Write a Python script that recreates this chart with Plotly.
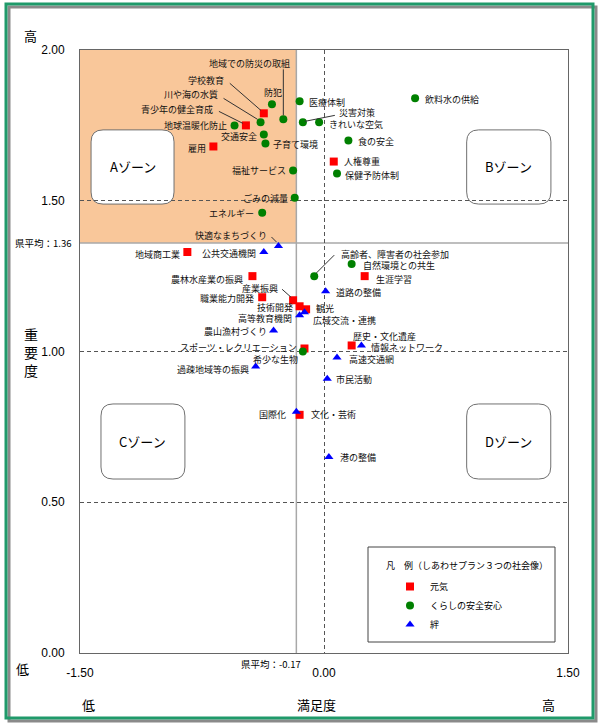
import plotly.graph_objects as go

# ---------------- data ----------------
genki_names = ["学校教育", "青少年の健全育成", "雇用", "人権尊重", "地域商工業", "農林水産業の振興",
               "職業能力開発", "産業振興", "技術開発", "観光", "生涯学習", "歴史・文化遺産",
               "スポーツ・レクリエーション", "文化・芸術"]
genki_x = [-0.37, -0.48, -0.68, 0.06, -0.84, -0.44, -0.38, -0.19, -0.15, -0.11, 0.25, 0.17, -0.12, -0.15]
genki_y = [1.79, 1.75, 1.68, 1.63, 1.33, 1.25, 1.18, 1.17, 1.15, 1.14, 1.25, 1.02, 1.01, 0.79]

anzen_names = ["防犯", "地域での防災の取組", "川や海の水質", "地球温暖化防止", "交通安全", "子育て環境",
               "福祉サービス", "ごみの減量", "エネルギー", "医療体制", "災害対策", "きれいな空気",
               "飲料水の供給", "食の安全", "保健予防体制", "高齢者、障害者の社会参加",
               "自然環境との共生", "希少な生物"]
anzen_x = [-0.32, -0.25, -0.39, -0.55, -0.37, -0.36, -0.19, -0.18, -0.38, -0.15, -0.13, -0.03,
           0.56, 0.15, 0.08, -0.06, 0.17, -0.13]
anzen_y = [1.82, 1.77, 1.76, 1.75, 1.72, 1.69, 1.60, 1.51, 1.46, 1.83, 1.76, 1.76,
           1.84, 1.70, 1.59, 1.25, 1.29, 1.00]

kizuna_names = ["快適なまちづくり", "公共交通機関", "高等教育機関", "広域交流・連携", "農山漁村づくり",
                "道路の整備", "情報ネットワーク", "高速交通網", "過疎地域等の振興", "市民活動",
                "国際化", "港の整備"]
kizuna_x = [-0.28, -0.37, -0.15, -0.12, -0.31, 0.01, 0.23, 0.08, -0.42, 0.02, -0.17, 0.03]
kizuna_y = [1.35, 1.33, 1.12, 1.13, 1.07, 1.20, 1.02, 0.98, 0.95, 0.91, 0.80, 0.65]

avg_x = -0.17
avg_y = 1.36
x_ticks = [-1.5, 0.0, 1.5]
x_tick_labels = ["-1.50", "0.00", "1.50"]
y_ticks = [0.0, 0.5, 1.0, 1.5, 2.0]
y_tick_labels = ["0.00", "0.50", "1.00", "1.50", "2.00"]
zone_names = ["Aゾーン", "Bゾーン", "Cゾーン", "Dゾーン"]
legend_title = "凡　例（しあわせプラン３つの社会像）"

# ---------------- label placement (layout) ----------------
# name: (anchor, xshift, yshift, leader line (x0,y0,x1,y1) in px relative to point or None)
label_pos = {
    "学校教育": ("right", -38, 33, (-3, 3, -34, 30)),
    "青少年の健全育成": ("right", -31, 16, (-3, 2, -27, 14)),
    "雇用": ("right", -5, -2, None),
    "人権尊重": ("left", 8, 0, None),
    "地域商工業": ("right", -5, -2, None),
    "農林水産業の振興": ("right", -7, -3, None),
    "職業能力開発": ("right", -6, -1, None),
    "産業振興": ("right", -13, 12, (-2, 3, -11, 11)),
    "技術開発": ("right", -5, -1, None),
    "観光": ("left", 8, 1, None),
    "生涯学習": ("left", 9, -3, None),
    "歴史・文化遺産": ("left", -1, 9, None),
    "スポーツ・レクリエーション": ("right", -5, 1, None),
    "文化・芸術": ("left", 9, 0, None),
    "防犯": ("center", 1, 12, None),
    "地域での防災の取組": ("right", 9, 56, (0, 4, 0, 50)),
    "川や海の水質": ("right", -41, 28, (-3, 3, -37, 24)),
    "地球温暖化防止": ("right", -6, 0, None),
    "交通安全": ("right", -5, -2, None),
    "子育て環境": ("left", 6, -1, None),
    "福祉サービス": ("right", -5, 0, None),
    "ごみの減量": ("right", -5, -1, None),
    "エネルギー": ("right", -6, -1, None),
    "医療体制": ("left", 7, -1, None),
    "災害対策": ("left", 34, 10, (2, 1, 32, 7)),
    "きれいな空気": ("left", 8, -2, None),
    "飲料水の供給": ("left", 8, -1, None),
    "食の安全": ("left", 8, -1, None),
    "保健予防体制": ("left", 6, -2, None),
    "高齢者、障害者の社会参加": ("left", 25, 22, (2, 3, 20, 21)),
    "自然環境との共生": ("left", 9, -1, None),
    "希少な生物": ("right", -3, -8, None),
    "快適なまちづくり": ("right", -9, 10, (-2, 4, -7, 9)),
    "公共交通機関": ("right", -6, -1, None),
    "高等教育機関": ("right", -6, -3, None),
    "広域交流・連携": ("left", 7, -8, None),
    "農山漁村づくり": ("right", -5, -1, None),
    "道路の整備": ("left", 8, -1, None),
    "情報ネットワーク": ("left", 8, -2, None),
    "高速交通網": ("left", 10, -2, None),
    "過疎地域等の振興": ("right", -5, -3, None),
    "市民活動": ("left", 7, -1, None),
    "国際化": ("right", -8, -3, None),
    "港の整備": ("left", 9, 0, None),
}

JP = "Noto Sans CJK JP"
NUM = "Liberation Sans"

fig = go.Figure()
series = [
    ("元気", genki_names, genki_x, genki_y, "square", "#FF0000"),
    ("くらしの安全安心", anzen_names, anzen_x, anzen_y, "circle", "#008000"),
    ("絆", kizuna_names, kizuna_x, kizuna_y, "triangle-up", "#0000FF"),
]
for sname, names, xs, ys, sym, col in series:
    fig.add_trace(go.Scatter(
        x=xs, y=ys, mode="markers", name=sname, text=names,
        marker=dict(symbol=sym, size=8, color=col, line=dict(width=0)),
        hoverinfo="text",
    ))

annotations = []
shapes = []

# plot area is px 80..568 (x), 50..653 (y)
def px2paper_x(px):
    return (px - 80) / 488.0

def px2paper_y(py):
    return (653 - py) / 603.0

# outer frame with shadow
shapes.append(dict(type="rect", xref="paper", yref="paper",
                   x0=px2paper_x(9), x1=px2paper_x(596), y0=px2paper_y(721), y1=px2paper_y(7),
                   line=dict(color="#8a8a8a", width=3), layer="below"))
shapes.append(dict(type="rect", xref="paper", yref="paper",
                   x0=px2paper_x(6), x1=px2paper_x(593), y0=px2paper_y(718), y1=px2paper_y(4),
                   line=dict(color="#1f9a6a", width=3), layer="below"))

# A-zone highlight
shapes.append(dict(type="rect", xref="x", yref="y", x0=-1.5, x1=avg_x, y0=avg_y, y1=2.0,
                   fillcolor="#F9C79A", line=dict(width=0), layer="below"))

# zone boxes (rounded)
def rounded(x0, x1, y0, y1, r=12):
    rx = r / 162.67
    ry = r / 301.5
    return (f"M {x0+rx},{y0} L {x1-rx},{y0} Q {x1},{y0} {x1},{y0+ry} "
            f"L {x1},{y1-ry} Q {x1},{y1} {x1-rx},{y1} L {x0+rx},{y1} "
            f"Q {x0},{y1} {x0},{y1-ry} L {x0},{y0+ry} Q {x0},{y0} {x0+rx},{y0} Z")

zone_boxes = [(-1.432, -0.922, 1.489, 1.735), (0.877, 1.395, 1.489, 1.735),
              (-1.371, -0.855, 0.577, 0.826), (0.877, 1.394, 0.577, 0.826)]
for zn, (x0, x1, y0, y1) in zip(zone_names, zone_boxes):
    shapes.append(dict(type="path", xref="x", yref="y", path=rounded(x0, x1, y0, y1),
                       fillcolor="white", line=dict(color="#707070", width=1), layer="below"))
    annotations.append(dict(x=(x0 + x1) / 2, y=(y0 + y1) / 2, xref="x", yref="y", text=zn,
                            showarrow=False, font=dict(family=JP, size=13, color="black")))

# average lines
shapes.append(dict(type="line", xref="x", yref="y", x0=avg_x, x1=avg_x, y0=0, y1=2.0,
                   line=dict(color="#a8a8a8", width=1.5), layer="below"))
shapes.append(dict(type="line", xref="x", yref="y", x0=-1.5, x1=1.5, y0=avg_y, y1=avg_y,
                   line=dict(color="#a8a8a8", width=1.5), layer="below"))

# point labels and leader lines
for sname, names, xs, ys, sym, col in series:
    for n, xv, yv in zip(names, xs, ys):
        anc, xs_, ys_, leader = label_pos[n]
        annotations.append(dict(x=xv, y=yv, xref="x", yref="y", text=n, showarrow=False,
                                xanchor=anc, yanchor="middle", xshift=xs_, yshift=ys_,
                                font=dict(family=JP, size=9, color="#111")))
        if leader:
            lx0, ly0, lx1, ly1 = leader
            shapes.append(dict(type="line", xref="x", yref="y",
                               xsizemode="pixel", ysizemode="pixel",
                               xanchor=xv, yanchor=yv, x0=lx0, x1=lx1, y0=ly0, y1=ly1,
                               line=dict(color="#333", width=1)))

# legend box
shapes.append(dict(type="rect", xref="paper", yref="paper",
                   x0=px2paper_x(368), x1=px2paper_x(555), y0=px2paper_y(642), y1=px2paper_y(547),
                   line=dict(color="#444", width=1), fillcolor="rgba(0,0,0,0)"))

# axis texts
def pann(px, py, text, size=13, xanchor="center", family=JP):
    annotations.append(dict(x=px2paper_x(px), y=px2paper_y(py), xref="paper", yref="paper",
                            text=text, showarrow=False, xanchor=xanchor, yanchor="middle",
                            font=dict(family=family, size=size, color="black")))

pann(384, 565, legend_title, 9, xanchor="left")
pann(30, 35, "高", 13)
pann(22, 668, "低", 13)
pann(31, 352, "重<br>要<br>度", 14)
pann(43, 243, f"県平均：{avg_y:.2f}", 9.5)
pann(271, 664, f"県平均：{avg_x:.2f}", 9.5)
pann(88, 704, "低", 13)
pann(316, 704, "満足度", 13)
pann(548, 704, "高", 13)

fig.update_layout(
    width=600, height=728,
    margin=dict(l=80, r=32, t=50, b=75),
    paper_bgcolor="white", plot_bgcolor="white",
    showlegend=True,
    legend=dict(x=px2paper_x(390), y=px2paper_y(572), xanchor="left", yanchor="top",
                bgcolor="rgba(0,0,0,0)", borderwidth=0,
                font=dict(family=JP, size=9, color="black"), tracegroupgap=0),
    shapes=shapes, annotations=annotations,
    xaxis=dict(range=[-1.5, 1.5], tickvals=x_ticks, ticktext=x_tick_labels,
               showgrid=True, gridcolor="#555", griddash="4px,3px", gridwidth=1,
               zeroline=False, showline=True, mirror=True, linecolor="#666", linewidth=1,
               ticks="", ticklabelstandoff=9, tickfont=dict(family=NUM, size=12, color="black"),
               fixedrange=True),
    yaxis=dict(range=[0, 2.0], tickvals=y_ticks, ticktext=y_tick_labels,
               showgrid=True, gridcolor="#555", griddash="4px,3px", gridwidth=1,
               zeroline=False, showline=True, mirror=True, linecolor="#666", linewidth=1,
               ticks="", ticklabelstandoff=12, tickfont=dict(family=NUM, size=12, color="black"),
               fixedrange=True),
)

fig.write_html("out.html", config={"displayModeBar": False},
               post_script="document.body.style.margin='0';document.body.style.overflow='hidden';")
